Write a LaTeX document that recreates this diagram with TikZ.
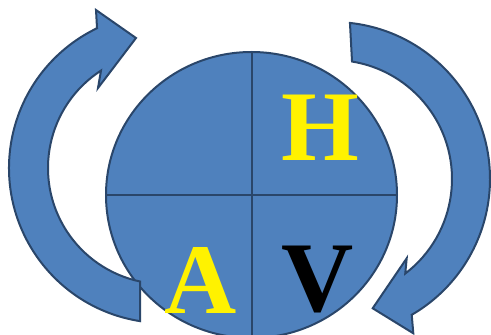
\documentclass[tikz,border=0pt]{standalone}
\usepackage{fontspec}
\setmainfont{Liberation Serif}
\usepackage{tikz}
\usetikzlibrary{shapes.geometric, positioning}
\definecolor{pptblue}{RGB}{79,129,189}
\definecolor{pptedge}{RGB}{42,70,106}

\begin{document}
\begin{tikzpicture}[
    x=1pt, y=1pt,
    disc/.style={ellipse, draw=pptedge, fill=pptblue, line width=2pt, minimum width=291pt, minimum height=286pt, inner sep=0pt},
    split/.style={draw=pptedge, line width=2pt},
    bendarrow/.style={draw=pptedge, fill=pptblue, line width=2pt, line join=miter},
    letter/.style={font=\fontsize{100}{100}\selectfont\bfseries, inner sep=0pt}
]
    \useasboundingbox (0,0) rectangle (491,335);

    \node (disc) [disc] at (251.5,140) {};
    \draw[split] (disc.north) -- (disc.south);
    \draw[split] (disc.west) -- (disc.east);

    % left arrow, going up
    \draw[bendarrow] ([shift={(164,167)}]261.1:155) arc[start angle=261.1, end angle=115.6, radius=155]
        -- (96,325) -- (136,297) -- (98,247)
        -- ([shift={(164,167)}]122.9:116) arc[start angle=122.9, end angle=258.1, radius=116] -- cycle;
    % right arrow, going down
    \draw[bendarrow] ([shift={(333,156)}]83.8:157) arc[start angle=83.8, end angle=-59.9, radius=157]
        -- (413.3,1.7) -- (372.7,26.7) -- (406.7,76.7)
        -- ([shift={(333,156)}]-52.6:119) arc[start angle=-52.6, end angle=80.8, radius=119] -- cycle;

    \node (h) [letter, text=yellow] at (320.8,207.5) {H};
    \node (a) [letter, text=yellow] at (200.5,55) {A};
    \node (v) [letter] at (318,55) {V};
\end{tikzpicture}
\end{document}
